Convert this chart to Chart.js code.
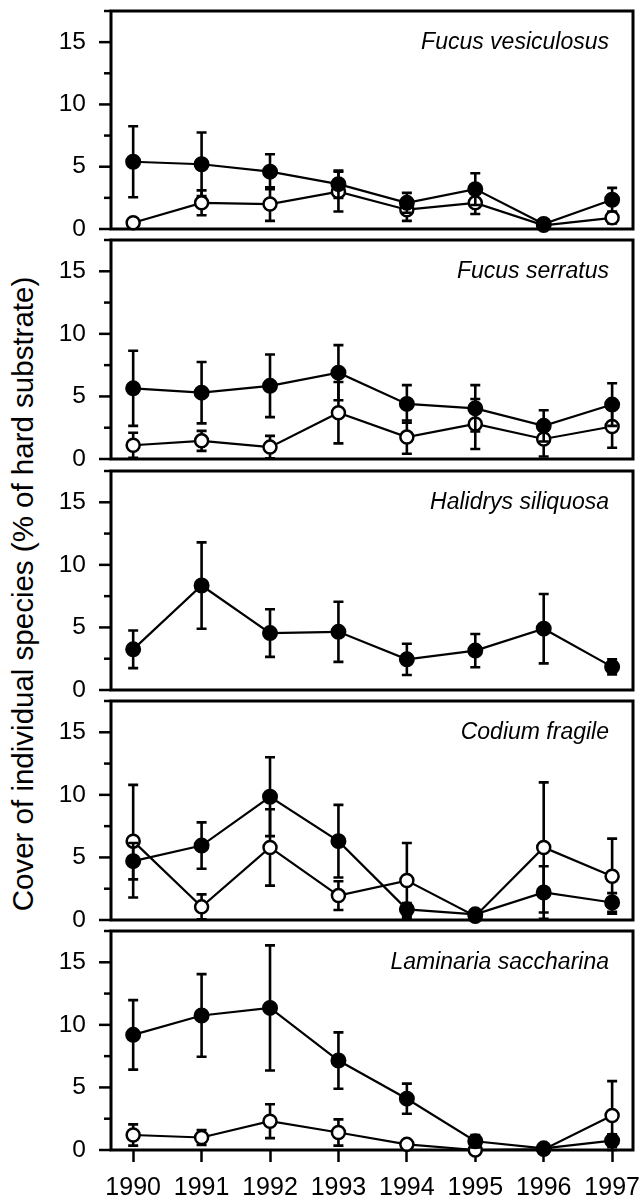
<!DOCTYPE html>
<html>
<head>
<meta charset="utf-8">
<script src="https://cdn.jsdelivr.net/npm/chart.js@4.4.1/dist/chart.umd.min.js"></script>
<style>
  body { margin: 0; background: #fff; }
  #wrap { position: relative; width: 642px; height: 1201px; overflow: hidden; background: #fff; }
  canvas { position: absolute; left: 0; }
  #ytitle {
    position: absolute; left: 23px; top: 594px;
    font-family: 'Liberation Sans', Arial, sans-serif; font-size: 29.5px; color: #000;
    white-space: nowrap; transform: translate(-50%, -50%) rotate(-90deg);
  }
</style>
</head>
<body>
<div id="wrap">
  <div id="ytitle">Cover of individual species (% of hard substrate)</div>
</div>
<script>
const years = [1990, 1991, 1992, 1993, 1994, 1995, 1996, 1997]
const yTicks = [0, 5, 10, 15]
const species = ['Fucus vesiculosus', 'Fucus serratus', 'Halidrys siliquosa', 'Codium fragile', 'Laminaria saccharina']

// filled circles / open circles, mean and error
const vesFilled = [5.4, 5.2, 4.6, 3.6, 2.1, 3.2, 0.4, 2.35]
const vesFilledErr = [2.85, 2.55, 1.4, 1.1, 0.8, 1.27, 0.1, 0.95]
const vesOpen = [0.5, 2.1, 2.0, 3.0, 1.55, 2.1, 0.3, 0.9]
const vesOpenErr = [0.2, 1.0, 1.35, 1.6, 0.9, 0.9, 0.1, 0.45]

const serFilled = [5.65, 5.3, 5.85, 6.9, 4.4, 4.05, 2.65, 4.35]
const serFilledErr = [3.0, 2.45, 2.5, 2.2, 1.5, 1.85, 1.25, 1.7]
const serOpen = [1.1, 1.45, 0.95, 3.7, 1.75, 2.8, 1.6, 2.6]
const serOpenErr = [1.0, 0.8, 0.9, 2.45, 1.33, 2.0, 1.4, 1.7]

const halFilled = [3.25, 8.35, 4.55, 4.65, 2.45, 3.15, 4.9, 1.85]
const halFilledErr = [1.5, 3.45, 1.9, 2.4, 1.25, 1.33, 2.77, 0.6]

const codFilled = [4.7, 5.95, 9.85, 6.3, 0.85, 0.45, 2.2, 1.4]
const codFilledErr = [1.45, 1.85, 3.15, 2.9, 0.5, 0.2, 2.1, 0.75]
const codOpen = [6.3, 1.05, 5.8, 1.95, 3.15, 0.3, 5.8, 3.5]
const codOpenErr = [4.5, 1.0, 3.05, 1.15, 3.0, 0.2, 5.2, 3.0]

const lamFilled = [9.2, 10.75, 11.35, 7.15, 4.1, 0.7, 0.13, 0.75]
const lamFilledErr = [2.78, 3.3, 5.0, 2.25, 1.2, 0.5, 0.1, 0.5]
const lamOpen = [1.2, 1.0, 2.3, 1.4, 0.45, 0.0, 0.05, 2.75]
const lamOpenErr = [0.85, 0.6, 1.35, 1.05, 0.2, 0.1, 0.05, 2.75]

const panels = [
  [vesFilled, vesFilledErr, vesOpen, vesOpenErr],
  [serFilled, serFilledErr, serOpen, serOpenErr],
  [halFilled, halFilledErr, null, null],
  [codFilled, codFilledErr, codOpen, codOpenErr],
  [lamFilled, lamFilledErr, lamOpen, lamOpenErr]
]

const tops = [11, 240, 471, 701, 931]
const zeros = [229, 459, 690, 920, 1150]
const FONT = "'Liberation Sans', Arial, sans-serif"

const errorBars = {
  id: 'errorBars',
  beforeDatasetDraw(chart, args) {
    const ds = chart.data.datasets[args.index]
    if (!ds.err) return
    const ctx = chart.ctx
    const xs = chart.scales.x, ys = chart.scales.y
    ctx.save()
    ctx.strokeStyle = '#000'
    ctx.lineWidth = 2.6
    ds.data.forEach((p, i) => {
      const e = ds.err[i]
      const px = xs.getPixelForValue(p.x)
      const top = ys.getPixelForValue(p.y + e)
      const bot = ys.getPixelForValue(Math.max(p.y - e, 0))
      ctx.beginPath()
      ctx.moveTo(px, top); ctx.lineTo(px, bot)
      ctx.moveTo(px - 5, top); ctx.lineTo(px + 5, top)
      ctx.moveTo(px - 5, bot); ctx.lineTo(px + 5, bot)
      ctx.stroke()
    })
    ctx.restore()
  }
}

const frame = {
  id: 'frame',
  beforeDatasetsDraw(chart, args, opts) {
    const { ctx, chartArea: a } = chart
    const ys = chart.scales.y
    ctx.save()
    ctx.strokeStyle = '#000'
    ctx.lineWidth = 3
    ctx.strokeRect(a.left, a.top, a.right - a.left, a.bottom - a.top)
    ctx.lineWidth = 2.5
    for (let v = 0; v <= 17.5; v += 2.5) {
      const py = ys.getPixelForValue(v)
      const len = yTicks.includes(v) ? 12 : 7
      ctx.beginPath()
      ctx.moveTo(a.left - len, py)
      ctx.lineTo(a.left, py)
      ctx.stroke()
    }
    ctx.fillStyle = '#000'
    ctx.font = 'italic 23px ' + FONT
    ctx.textAlign = 'right'
    ctx.textBaseline = 'middle'
    ctx.fillText(opts.label, 609, ys.getPixelForValue(15))
    ctx.restore()
  }
}

const makePanel = (k) => {
  const [filled, filledErr, open, openErr] = panels[k]
  const bottom = k === panels.length - 1
  const xh = bottom ? 1201 - zeros[k] : 16
  const canvas = document.createElement('canvas')
  canvas.width = 642
  canvas.height = zeros[k] - tops[k] + 15 + xh
  canvas.style.top = (tops[k] - 15) + 'px'
  document.getElementById('wrap').appendChild(canvas)

  const pts = arr => arr.map((v, i) => ({ x: years[i], y: v }))
  const datasets = [{
    data: pts(filled), err: filledErr,
    borderColor: '#000', borderWidth: 2.2,
    pointRadius: 7, pointBorderWidth: 2,
    pointBackgroundColor: '#000', pointBorderColor: '#000',
    clip: false
  }]
  if (open) {
    datasets.push({
      data: pts(open), err: openErr,
      borderColor: '#000', borderWidth: 2.2,
      pointRadius: 6.5, pointBorderWidth: 2.5,
      pointBackgroundColor: '#fff', pointBorderColor: '#000',
      clip: false
    })
  }

  new Chart(canvas.getContext('2d'), {
    type: 'line',
    data: { datasets },
    plugins: [frame, errorBars],
    options: {
      responsive: false,
      animation: false,
      layout: { padding: { top: 15, right: 6, left: 0, bottom: 0 } },
      plugins: {
        legend: { display: false },
        tooltip: { enabled: false },
        frame: { label: species[k] }
      },
      scales: {
        x: {
          type: 'linear',
          min: 1989.676,
          max: 1997.305,
          afterBuildTicks: s => { s.ticks = years.map(v => ({ value: v })) },
          afterFit: s => { s.height = xh; s.paddingLeft = 0; s.paddingRight = 0 },
          border: { display: false },
          grid: { drawOnChartArea: false, drawTicks: bottom, tickLength: 12, tickWidth: 2.5, tickColor: '#000' },
          ticks: {
            display: bottom, padding: 11, color: '#000',
            font: { family: FONT, size: 25 },
            callback: v => String(v)
          }
        },
        y: {
          min: 0,
          max: 17.5,
          afterBuildTicks: s => { s.ticks = yTicks.map(v => ({ value: v })) },
          afterFit: s => { s.width = 111; s.paddingTop = 0; s.paddingBottom = 0 },
          border: { display: false },
          grid: { display: false, drawTicks: false },
          ticks: { padding: 25, color: '#000', font: { family: FONT, size: 24.5 } }
        }
      }
    }
  })
}

for (let k = 0; k < panels.length; k++) makePanel(k)
</script>
</body>
</html>
